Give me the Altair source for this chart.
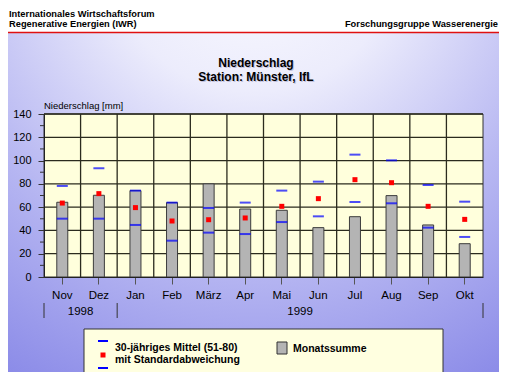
import altair as alt
import pandas as pd

# ---------------- data ----------------
months = ["Nov", "Dez", "Jan", "Feb", "März", "Apr", "Mai", "Jun", "Jul", "Aug", "Sep", "Okt"]
monatssumme = [64.2, 70.2, 74.2, 63.9, 80.0, 58.4, 57.3, 42.4, 51.8, 69.9, 44.7, 28.6]
mittel = [63.5, 71.6, 59.6, 48.1, 49.2, 50.7, 60.7, 67.3, 83.6, 81.0, 60.7, 49.5]
mittel_plus_sd = [78.2, 93.4, 74.2, 63.9, 59.3, 63.9, 74.2, 81.9, 105.1, 100.2, 79.0, 64.7]
mittel_minus_sd = [50.1, 50.1, 44.7, 31.2, 38.1, 36.9, 47.2, 52.1, 64.4, 63.3, 42.4, 34.4]

y_major = [20, 40, 60, 80, 100, 120, 140]
y_minor = [10, 30, 50, 70, 90, 110, 130]
y_labels = [0, 20, 40, 60, 80, 100, 120, 140]

years = ["1998", "1999"]
year_anchor = ["Dez", "Jun"]
year_sep_start = ["Nov", "Jan"]
year_sep_end = ["Okt"]

header_left_1 = "Internationales Wirtschaftsforum"
header_left_2 = "Regenerative Energien (IWR)"
header_right = "Forschungsgruppe Wasserenergie"
title_1 = "Niederschlag"
title_2 = "Station: Münster, IfL"
y_title = "Niederschlag [mm]"
legend_1a = "30-jähriges Mittel (51-80)"
legend_1b = "mit Standardabweichung"
legend_2 = "Monatssumme"

FONT = "Liberation Sans"

df = pd.DataFrame({
    "month": months,
    "summe": monatssumme,
    "mittel": mittel,
    "upper": mittel_plus_sd,
    "lower": mittel_minus_sd,
})

W, H = 439, 163
PAD = {"left": 36, "top": 106, "right": 16, "bottom": 95}

xscale = alt.Scale(domain=months, paddingInner=0, paddingOuter=0)
xaxis = alt.Axis(title=None, labelAngle=0, tickSize=7, labelPadding=5.5, labelFontSize=11.5,
                 labelFont=FONT, labelColor="black", domainColor="#222222", tickColor="#555555",
                 grid=False, zindex=1)
yscale = alt.Scale(domain=[0, 140], nice=False)
yaxis = alt.Axis(title=None, values=y_labels, tickSize=6, labelPadding=7, labelFontSize=11,
                 labelFont=FONT, labelColor="black", domainColor="#222222", tickColor="#333333",
                 grid=False, zindex=1)


def X(field, **kw):
    return alt.X(field, scale=xscale, axis=xaxis, sort=months, **kw)


def Y(field):
    return alt.Y(field, scale=yscale, axis=yaxis)


one = alt.Data(values=[{"a": 1}])


def fixed_text(text, x, y, size, weight="normal", align="left", color="black"):
    return alt.Chart(one).mark_text(text=text, align=align, baseline="alphabetic", font=FONT,
                                    fontSize=size, fontWeight=weight, color=color).encode(
        x=alt.value(x), y=alt.value(y))


bg = alt.Chart(one).mark_rect(fill={
    "gradient": "radial",
    "x1": 0.5, "y1": 0.0, "r1": 0.0,
    "x2": 0.5, "y2": 0.0, "r2": 1.0,
    "stops": [
        {"offset": 0.0, "color": "#fcfcff"},
        {"offset": 0.3, "color": "#ececfc"},
        {"offset": 0.65, "color": "#b8b8f2"},
        {"offset": 1.0, "color": "#8c8ce8"},
    ],
}).encode(x=alt.value(-36), x2=alt.value(455), y=alt.value(-106), y2=alt.value(258))

header_bg = alt.Chart(one).mark_rect(fill="white").encode(
    x=alt.value(-36), x2=alt.value(455), y=alt.value(-106), y2=alt.value(-82))
red_line = alt.Chart(one).mark_rule(color="#e01010", strokeWidth=1.5).encode(
    x=alt.value(-36), x2=alt.value(455), y=alt.value(-81.5))

texts = [
    fixed_text(header_left_1, -35, -97.5, 9.3, "bold"),
    fixed_text(header_left_2, -35, -87, 9.3, "bold"),
    fixed_text(header_right, 454, -87, 9.3, "bold", align="right"),
    fixed_text(title_1, 213, -46, 12, "bold", "center", "#c0c0dc"),
    fixed_text(title_2, 213, -32, 12, "bold", "center", "#c0c0dc"),
    fixed_text(title_1, 212, -47, 12, "bold", "center"),
    fixed_text(title_2, 212, -33, 12, "bold", "center"),
    fixed_text(y_title, 0, -5, 9.5),
]

plot_bg = alt.Chart(one).mark_rect(fill="#ffffdc", stroke="#333333", strokeWidth=1).encode(
    x=alt.value(0), x2=alt.value(W), y=alt.value(0), y2=alt.value(H))

hgrid = alt.Chart(alt.Data(values=[{"v": v} for v in y_major])).mark_rule(
    color="#2b2b1e", strokeWidth=1.3).encode(y=Y("v:Q"))

vgrid = alt.Chart(alt.Data(values=[{"m": m} for m in months[1:]])).mark_rule(
    color="#2b2b1e", strokeWidth=1.3).encode(x=X("m:N", bandPosition=0))

base = alt.Chart(df)
bars = base.mark_bar(size=11, color="#b4b4b4", stroke="#3c3c3c", strokeWidth=1).encode(
    x=X("month:N"), y=Y("summe:Q"))
up = base.mark_tick(size=11, thickness=2, color="#0000ff").encode(
    x=X("month:N"), y=Y("upper:Q"))
lo = base.mark_tick(size=11, thickness=2, color="#0000ff").encode(
    x=X("month:N"), y=Y("lower:Q"))
pts = base.mark_square(size=25, color="#ff0000", opacity=1).encode(
    x=X("month:N"), y=Y("mittel:Q"))

minor = alt.Chart(alt.Data(values=[{"v": v} for v in y_minor])).mark_rule(
    color="#333333", strokeWidth=1).encode(
    y=Y("v:Q"), x=alt.value(-4), x2=alt.value(0))

sep1 = alt.Chart(alt.Data(values=[{"m": m} for m in year_sep_start])).mark_rule(
    color="#333333", strokeWidth=1).encode(
    x=X("m:N", bandPosition=0), y=alt.value(189), y2=alt.value(204))
sep2 = alt.Chart(alt.Data(values=[{"m": m} for m in year_sep_end])).mark_rule(
    color="#333333", strokeWidth=1).encode(
    x=X("m:N", bandPosition=1), y=alt.value(189), y2=alt.value(204))
year_txt = alt.Chart(alt.Data(values=[{"m": m, "t": t} for m, t in zip(year_anchor, years)])).mark_text(
    font=FONT, fontSize=11.5, baseline="alphabetic", align="center", color="black").encode(
    x=X("m:N", bandPosition=0), y=alt.value(201), text="t:N")

leg_box = alt.Chart(one).mark_rect(fill="#ffffe0", stroke="#333333", strokeWidth=1).encode(
    x=alt.value(40), x2=alt.value(399), y=alt.value(215), y2=alt.value(261))
leg_up = alt.Chart(one).mark_rule(color="#0000ff", strokeWidth=2).encode(
    x=alt.value(54), x2=alt.value(64), y=alt.value(227))
leg_lo = alt.Chart(one).mark_rule(color="#0000ff", strokeWidth=2).encode(
    x=alt.value(54), x2=alt.value(64), y=alt.value(254))
leg_pt = alt.Chart(one).mark_square(size=25, color="#ff0000", opacity=1).encode(
    x=alt.value(59), y=alt.value(241))
leg_sq = alt.Chart(one).mark_rect(fill="#b4b4b4", stroke="#333333", strokeWidth=1).encode(
    x=alt.value(233), x2=alt.value(243), y=alt.value(228), y2=alt.value(240))
leg_texts = [
    fixed_text(legend_1a, 71, 236.5, 10.5, "bold"),
    fixed_text(legend_1b, 71, 249, 10.5, "bold"),
    fixed_text(legend_2, 249, 237.5, 10.5, "bold"),
]

chart = alt.layer(
    bg, header_bg, red_line, *texts, plot_bg, hgrid, vgrid, bars, up, lo, pts, minor,
    sep1, sep2, year_txt, leg_box, leg_up, leg_lo, leg_pt, leg_sq, *leg_texts
).properties(
    width=W, height=H, padding=PAD, autosize=alt.AutoSizeParams(type="none")
).configure_view(stroke=None).configure(background="white")

chart.save("out.html", embed_options={"renderer": "svg", "actions": False})
